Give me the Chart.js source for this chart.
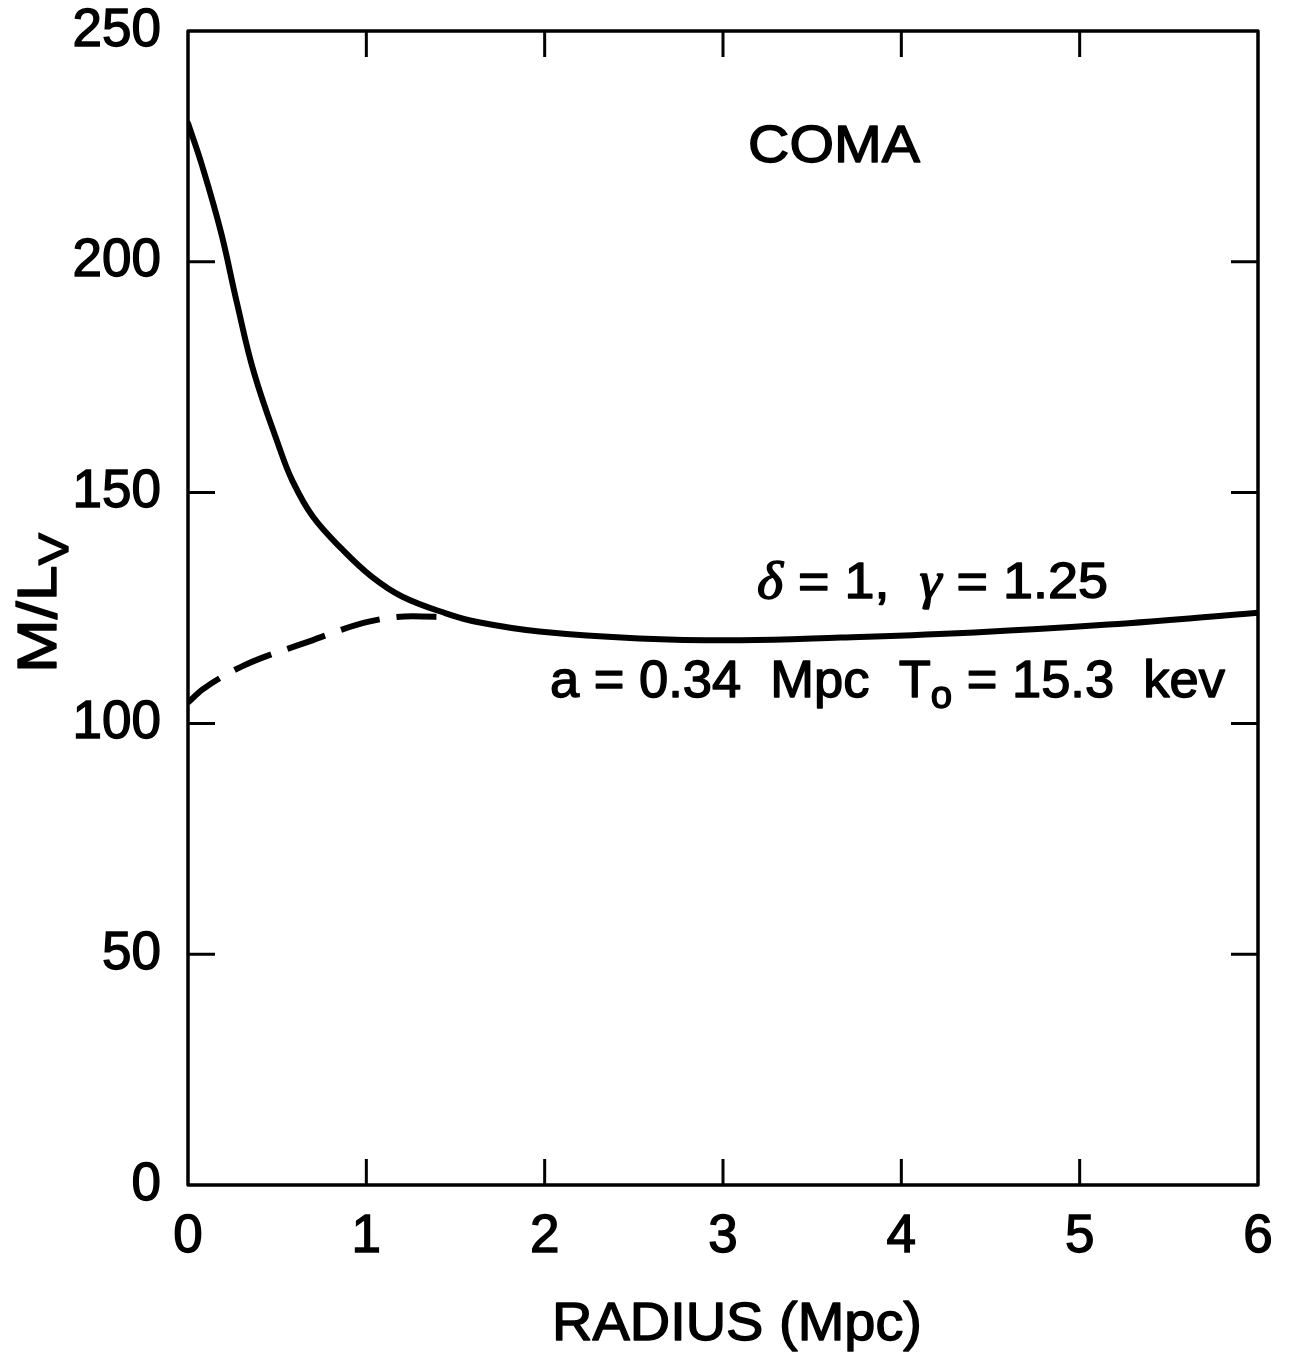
<!DOCTYPE html>
<html><head><meta charset="utf-8">
<script src="https://cdn.jsdelivr.net/npm/chart.js@4.4.1/dist/chart.umd.min.js"></script>
<style>html,body{margin:0;padding:0;background:#fff;}#wrap{width:1291px;height:1353px;}</style>
</head><body><div id="wrap"><canvas id="c" width="1291" height="1353"></canvas></div>
<script>
// ---- data ----
const radiusSolid = [0, 0.08, 0.185, 0.275, 0.37, 0.51, 0.585, 0.70, 0.865, 1.03, 1.20, 1.45, 1.63, 1.97, 2.53, 3.10, 3.66, 4.41, 5.16, 6.0];
const mlSolid     = [230, 220.7, 206.4, 191.0, 176.0, 160.0, 152.6, 144.8, 137.7, 131.8, 127.5, 123.8, 121.9, 119.9, 118.4, 118.0, 118.6, 119.7, 121.4, 124.0];
const radiusDashed = [0, 0.08, 0.30, 0.66, 1.02, 1.26, 1.45];
const mlDashed     = [104.5, 107.3, 112.3, 117.5, 122.1, 123.2, 123.0];
const xTickValues = [0, 1, 2, 3, 4, 5, 6];
const yTickValues = [0, 50, 100, 150, 200, 250];
const xTitle = 'RADIUS (Mpc)';
const clusterName = 'COMA';

const SANS = '"Liberation Sans", Arial, sans-serif';
const SERIF = '"Liberation Serif", "DejaVu Serif", serif';

function pts(xs, ys) { return xs.map((x, i) => ({x: x, y: ys[i]})); }

function drawRun(ctx, pieces, x0, x1, baseline) {
  let w = 0;
  pieces.forEach(p => { ctx.font = p.font; p.w = ctx.measureText(p.t).width; w += p.w; });
  const sx = (x1 - x0) / w;
  ctx.save();
  ctx.translate(x0, baseline);
  ctx.scale(sx, 1);
  ctx.lineWidth = 1.4;
  ctx.strokeStyle = '#000';
  ctx.lineJoin = 'round';
  let x = 0;
  pieces.forEach(p => {
    ctx.font = p.font;
    ctx.textAlign = 'left';
    ctx.textBaseline = 'alphabetic';
    ctx.fillText(p.t, x, p.dy || 0);
    ctx.strokeText(p.t, x, p.dy || 0);
    x += p.w;
  });
  ctx.restore();
}

const framePlugin = {
  id: 'frame',
  afterDraw(chart) {
    const ctx = chart.ctx;
    const a = chart.chartArea;
    const xs = chart.scales.x, ys = chart.scales.y;
    ctx.save();
    ctx.strokeStyle = '#000';
    ctx.fillStyle = '#000';
    ctx.lineWidth = 3.5;
    ctx.lineJoin = 'round';
    ctx.strokeRect(a.left, a.top, a.right - a.left, a.bottom - a.top);
    ctx.lineWidth = 3;
    ctx.beginPath();
    xTickValues.forEach(v => {
      if (v === xs.min || v === xs.max) return;
      const px = xs.getPixelForValue(v);
      ctx.moveTo(px, a.bottom); ctx.lineTo(px, a.bottom - 26);
      ctx.moveTo(px, a.top); ctx.lineTo(px, a.top + 26);
    });
    yTickValues.forEach(v => {
      if (v === ys.min || v === ys.max) return;
      const py = ys.getPixelForValue(v);
      ctx.moveTo(a.left, py); ctx.lineTo(a.left + 27, py);
      ctx.moveTo(a.right, py); ctx.lineTo(a.right - 27, py);
    });
    ctx.stroke();

    // annotations
    drawRun(ctx, [{t: clusterName, font: '52px ' + SANS}], 748, 920, 162);
    drawRun(ctx, [
      {t: 'δ', font: 'italic 52px ' + SERIF},
      {t: ' = 1,  ', font: '50px ' + SANS},
      {t: 'γ', font: 'italic 52px ' + SERIF},
      {t: ' = 1.25', font: '50px ' + SANS}
    ], 757, 1108, 598);
    drawRun(ctx, [
      {t: 'a = 0.34  Mpc  T', font: '52px ' + SANS},
      {t: 'o', font: '38px ' + SANS, dy: 11},
      {t: ' = 15.3  kev', font: '52px ' + SANS}
    ], 550, 1225, 697);

    // x title
    drawRun(ctx, [{t: xTitle, font: '54px ' + SANS}], 552, 922, 1340);

    // y title (rotated)
    ctx.save();
    ctx.translate(56, 673);
    ctx.rotate(-Math.PI / 2);
    drawRun(ctx, [
      {t: 'M', font: '56px ' + SANS},
      {t: '/', font: '56px ' + SANS},
      {t: 'L', font: '56px ' + SANS},
      {t: 'V', font: '42px ' + SANS, dy: 12}
    ], 0, 140, 0);
    ctx.restore();
    ctx.restore();
  }
};

const tickFont = {family: SANS, size: 53};
function noScalePadding(s) { s.paddingTop = 0; s.paddingBottom = 0; s.paddingLeft = 0; s.paddingRight = 0; }

new Chart(document.getElementById('c'), {
  type: 'line',
  data: {
    datasets: [
      {
        data: pts(radiusDashed, mlDashed),
        borderColor: '#000', borderWidth: 6, borderDash: [40, 17],
        pointRadius: 0, cubicInterpolationMode: 'monotone', fill: false
      },
      {
        data: pts(radiusSolid, mlSolid),
        borderColor: '#000', borderWidth: 6,
        pointRadius: 0, tension: 0.4, fill: false,
        borderCapStyle: 'round'
      }
    ]
  },
  options: {
    responsive: false,
    animation: false,
    devicePixelRatio: 1,
    layout: {padding: {left: 0, top: 31, right: 33, bottom: 0}},
    plugins: {legend: {display: false}, tooltip: {enabled: false}},
    scales: {
      x: {
        type: 'linear', min: 0, max: 6,
        afterBuildTicks: s => { s.ticks = xTickValues.map(v => ({value: v})); },
        grid: {display: false, drawTicks: false},
        border: {display: false},
        ticks: {color: '#000', font: tickFont, padding: 21, maxRotation: 0,
                textStrokeColor: '#000', textStrokeWidth: 1.4},
        afterFit: s => { s.height = 168; noScalePadding(s); }
      },
      y: {
        type: 'linear', min: 0, max: 250,
        afterBuildTicks: s => { s.ticks = yTickValues.map(v => ({value: v})); },
        grid: {display: false, drawTicks: false},
        border: {display: false},
        ticks: {color: '#000', font: tickFont, padding: 27,
                textStrokeColor: '#000', textStrokeWidth: 1.4},
        afterFit: s => { s.width = 188; noScalePadding(s); }
      }
    }
  },
  plugins: [framePlugin]
});
</script>
</body></html>
